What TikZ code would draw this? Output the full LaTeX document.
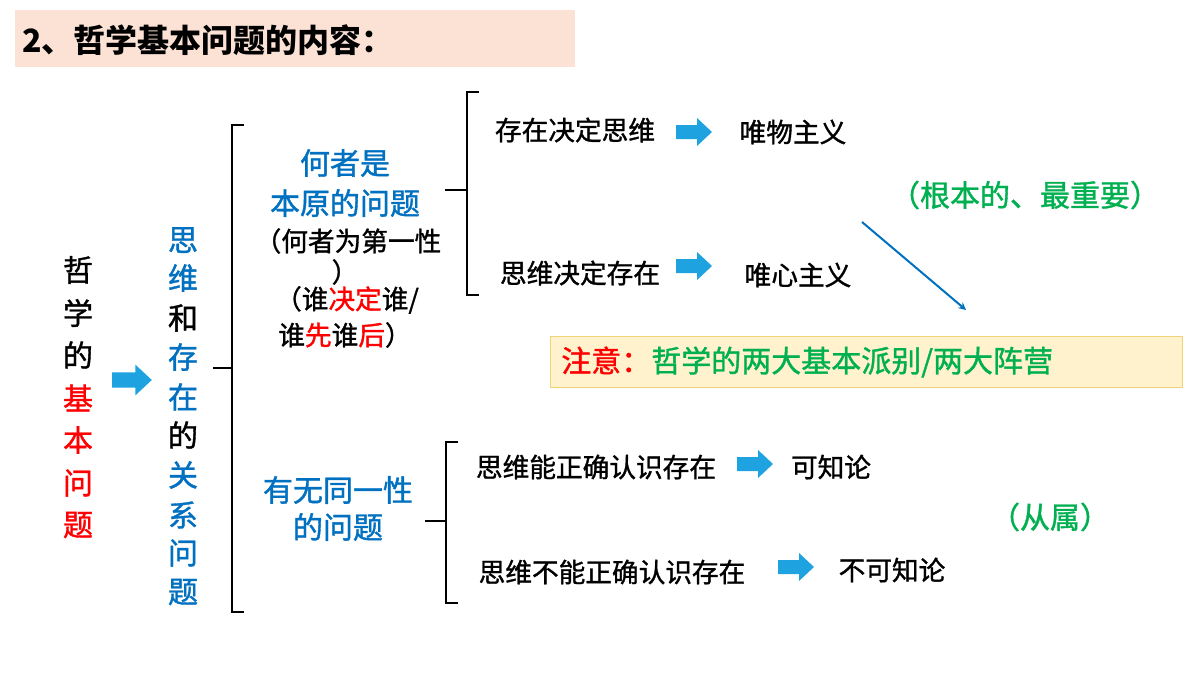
\documentclass[tikz,border=0pt]{standalone}
\usepackage{fontspec}
\setmainfont{Noto Sans CJK SC}
\newfontfamily\md{Noto Sans CJK SC}[FakeBold=1.2]
\definecolor{tb}{HTML}{0070C0}
\definecolor{tr}{HTML}{FF0000}
\definecolor{tg}{HTML}{00B050}
\definecolor{ab}{HTML}{1FA2E0}
\tikzset{
  ar/.pic={\fill[ab] (-18,-7) -- (3,-7) -- (3,-14) -- (18,0) -- (3,14) -- (3,7) -- (-18,7) -- cycle;},
  t/.style={inner sep=0pt, font=\md\fontsize{20}{22}\selectfont},
  tc/.style={inner sep=0pt, font=\md\fontsize{22.5}{24}\selectfont},
  br/.style={line width=1.5pt}
}
\begin{document}
\begin{tikzpicture}[x=0.75pt,y=-0.75pt]
\useasboundingbox (0,0) rectangle (1200,675);
\fill[white] (0,0) rectangle (1200,675);
% title
\fill[fill={rgb,255:red,251;green,226;blue,213}] (15,10) rectangle (575,67);
\node[anchor=west, inner sep=0pt, font=\fontsize{24}{26}\selectfont\bfseries] (title) at (22,40) {2、哲学基本问题的内容：};
% left column
\foreach \c/\y/\col in {哲/270/black,学/313/black,的/355/black,基/398/tr,本/440/tr,问/483/tr,题/525/tr}
  \node[tc, text=\col] (L\y) at (78,\y) {\c};
\pic[scale=1.1] (a0) at (132,380) {ar};
\foreach \c/\y/\col in {思/240/tb,维/278/tb,和/318/black,存/357/tb,在/397/tb,的/435/black,关/475/tb,系/515/tb,问/553/tb,题/592/tb}
  \node[tc, text=\col] (M\y) at (183,\y) {\c};
% bracket 1
\draw[br] (244,125) -- (232,125) -- (232,612) -- (244,612);
\draw[br] (232,368) -- (213,368);
\node[tc, text=tb] (q1a) at (345,163) {何者是};
\node[tc, text=tb] (q1b) at (345,203) {本原的问题};
\node[t] (q1c) at (348,241) {（何者为第一性};
\node[t] (q1d) at (345,272) {）};
\node[t] (q1e) at (347,300) {（谁\textcolor{tr}{决定}谁/};
\node[t] (q1f) at (345,335) {谁\textcolor{tr}{先}谁\textcolor{tr}{后}）};
% bracket 2
\draw[br] (479,92) -- (467,92) -- (467,295) -- (479,295);
\draw[br] (467,190) -- (445,190);
\node[t] (s1) at (575,130) {存在决定思维};
\pic (a1) at (694,132) {ar};
\node[t] (w1) at (793,132) {唯物主义};
\node[t] (s2) at (580,273) {思维决定存在};
\pic (a2) at (694,266) {ar};
\node[t] (w2) at (798,275) {唯心主义};
\node[tc, text=tg] (gen) at (1025,195) {（根本的、最重要）};
\coordinate (p1) at (862,222);
\coordinate (p2) at (966,310);
\draw[tb, line width=1.5pt, -stealth] (p1) -- (p2);
% note box
\node[draw={rgb,255:red,240;green,210;blue,120}, fill={rgb,255:red,255;green,242;blue,204}, minimum width=632*0.75pt, minimum height=51*0.75pt, inner sep=0pt] (note) at (866,361.5) {};
\node[anchor=west, inner sep=0pt, font=\md\fontsize{22.5}{24}\selectfont] (notet) at (561,362) {\textcolor{tr}{注意：}\textcolor{tg}{哲学的两大基本派别/两大阵营}};
% second question
\node[tc, text=tb] (q2a) at (338,490) {有无同一性};
\node[tc, text=tb] (q2b) at (338,527) {的问题};
\draw[br] (458,442) -- (446,442) -- (446,603) -- (458,603);
\draw[br] (446,521) -- (425,521);
\node[t] (k1) at (596,467) {思维能正确认识存在};
\pic (a3) at (755,464) {ar};
\node[t] (k1r) at (831,467) {可知论};
\node[t] (k2) at (612,572) {思维不能正确认识存在};
\pic (a4) at (796,567) {ar};
\node[t] (k2r) at (892,570) {不可知论};
\node[tc, text=tg] (sub) at (1050,517) {（从属）};
\end{tikzpicture}
\end{document}
